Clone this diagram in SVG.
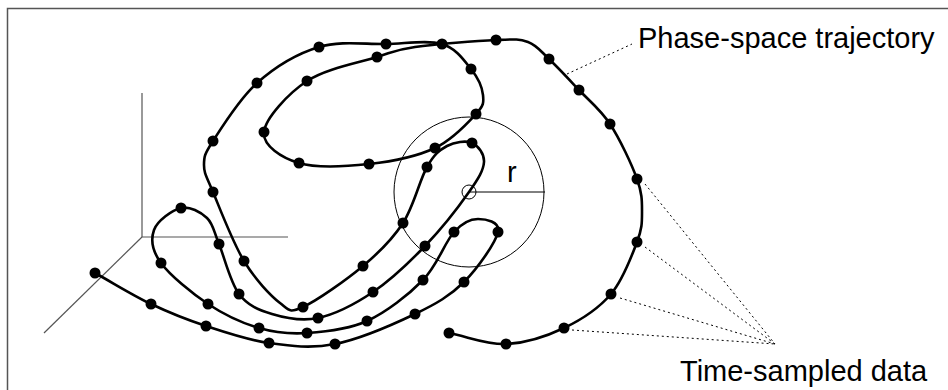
<svg xmlns="http://www.w3.org/2000/svg" width="948" height="390" viewBox="0 0 948 390">
<style>
.frame{fill:none;stroke:#555;stroke-width:1.5}
.axis{fill:none;stroke:#555;stroke-width:1.2}
.traj{fill:none;stroke:#000;stroke-width:2.6;stroke-linejoin:round;stroke-linecap:round}
.thin{fill:none;stroke:#000;stroke-width:1}
.lead{fill:none;stroke:#000;stroke-width:1;stroke-dasharray:2 3}
.lbl{font-family:"Liberation Sans",Arial,sans-serif;font-size:29px;fill:#000}
</style>
<defs>
<circle id="dot" r="5.5" fill="#000"/>
</defs>
<rect id="frame" class="frame" x="7.5" y="8.5" width="1000" height="1000"/>
<g id="axes">
<line class="axis" x1="142" y1="93" x2="142" y2="237"/>
<line class="axis" x1="142" y1="237" x2="288" y2="237"/>
<line class="axis" x1="142" y1="237" x2="44" y2="333"/>
</g>
<g id="neighbourhood">
<circle class="thin" cx="469" cy="192" r="75"/>
<line class="thin" x1="469" y1="192" x2="545" y2="192"/>
<circle class="thin" cx="469" cy="192" r="7" fill="#fff"/>
</g>
<path id="trajectory" class="traj" d="M95,273 C113.7,283.3 132.5,295.2 151,304 S186.3,319.5 206,326 S247.5,340 269,343 S310.7,348.8 335,344 S393.5,324.3 415,314 S450.2,295.7 464,282 S495.7,242.5 498,232 S485.3,219 478,219 S463.2,221.8 454,232 S437.5,265.2 423,280 S386.3,312.2 367,321 S325,331.8 307,333 S275.5,332.8 259,328 S224.3,314.8 208,304 S170,275.3 161,263 S150.7,239.2 154,230 S172.2,210 181,208 S200.7,212 207,218 S213.7,231.3 219,244 S230.2,282.3 239,294 S258.8,310 272,314 S301.2,321.7 318,318 S355.2,304 373,292 S409,262.7 425,246 S459.2,206 469,192 S483.5,170.2 484,162 S478.2,145.7 472,143 S454.5,142 447,146 S434.3,154.2 427,167 S413.7,206.5 403,223 S379.7,252 363,266 S316.8,300.8 303,307 S289.8,310.7 280,303 S255.2,279.5 244,261 S219.7,208 213,192 S204,173.5 204,165 S204.2,154.7 213,141 S239.3,98.7 257,83 S297.5,53.5 319,47 S365.5,44.5 386,44 S427.8,39.8 442,44 S464.2,60.5 471,69 S482.2,87.5 483,95 S484,105.2 476,114 S452.8,139.7 435,148 S391.7,161.5 369,164 S316.5,168.3 299,163 S262.7,145.7 264,132 S288.2,93.5 307,81 S359,62.7 377,57 S395.2,49.8 415,47 S477.2,40.8 496,40 S519.2,38.8 528,42 S540.5,51 549,59 S568.8,79.2 579,90 S600.3,109.2 610,124 S631.7,164.3 637,179 S642,201.5 642,212 S642.2,228.3 637,242 S623.2,279.7 611,294 S581.5,319.7 564,328 S525.2,343.2 506,344 S468,336.7 449,333"/>
<g id="samples">
<use href="#dot" x="95" y="273"/><use href="#dot" x="151" y="304"/><use href="#dot" x="206" y="326"/><use href="#dot" x="269" y="343"/>
<use href="#dot" x="335" y="344"/><use href="#dot" x="415" y="314"/><use href="#dot" x="464" y="282"/><use href="#dot" x="498" y="232"/>
<use href="#dot" x="454" y="232"/><use href="#dot" x="423" y="280"/><use href="#dot" x="367" y="321"/><use href="#dot" x="307" y="333"/>
<use href="#dot" x="259" y="328"/><use href="#dot" x="208" y="304"/><use href="#dot" x="161" y="263"/><use href="#dot" x="181" y="208"/>
<use href="#dot" x="219" y="244"/><use href="#dot" x="239" y="294"/><use href="#dot" x="318" y="318"/><use href="#dot" x="373" y="292"/>
<use href="#dot" x="425" y="246"/><use href="#dot" x="472" y="143"/><use href="#dot" x="427" y="167"/><use href="#dot" x="403" y="223"/>
<use href="#dot" x="363" y="266"/><use href="#dot" x="303" y="307"/><use href="#dot" x="244" y="261"/><use href="#dot" x="213" y="192"/>
<use href="#dot" x="213" y="141"/><use href="#dot" x="257" y="83"/><use href="#dot" x="319" y="47"/><use href="#dot" x="386" y="44"/>
<use href="#dot" x="442" y="44"/><use href="#dot" x="471" y="69"/><use href="#dot" x="476" y="114"/><use href="#dot" x="435" y="148"/>
<use href="#dot" x="369" y="164"/><use href="#dot" x="299" y="163"/><use href="#dot" x="264" y="132"/><use href="#dot" x="307" y="81"/>
<use href="#dot" x="377" y="57"/><use href="#dot" x="496" y="40"/><use href="#dot" x="549" y="59"/><use href="#dot" x="579" y="90"/>
<use href="#dot" x="610" y="124"/><use href="#dot" x="637" y="179"/><use href="#dot" x="637" y="242"/><use href="#dot" x="611" y="294"/>
<use href="#dot" x="564" y="328"/><use href="#dot" x="506" y="344"/><use href="#dot" x="449" y="333"/>
</g>
<g id="connectors">
<line class="lead" x1="567" y1="74" x2="632" y2="44"/>
<line class="lead" x1="645" y1="184" x2="775" y2="344"/>
<line class="lead" x1="645" y1="247" x2="775" y2="344"/>
<line class="lead" x1="620" y1="298" x2="775" y2="344"/>
<line class="lead" x1="572" y1="330" x2="775" y2="344"/>
</g>
<g id="labels">
<text class="lbl" x="638" y="48">Phase-space trajectory</text>
<text class="lbl" x="680" y="381">Time-sampled data</text>
<text class="lbl" x="507" y="182">r</text>
</g>
</svg>
